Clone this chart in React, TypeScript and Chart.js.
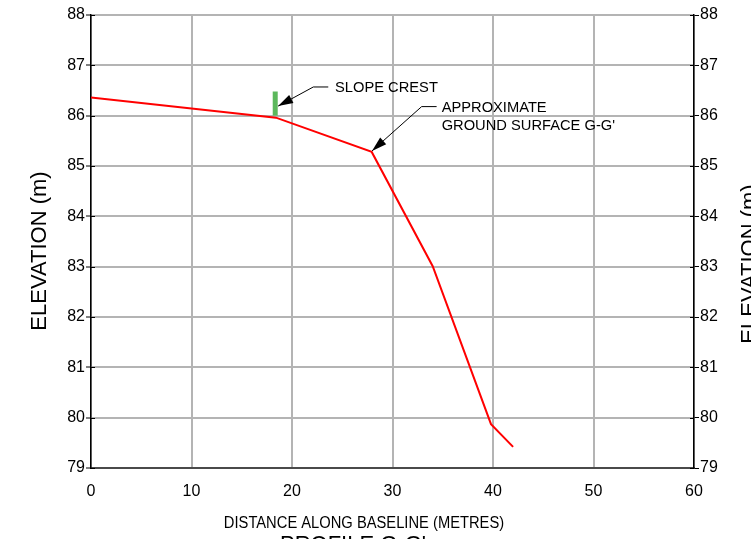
import React, { useEffect, useRef } from 'react';
import { Chart, registerables } from 'chart.js';

Chart.register(...registerables);

// ---- data ----
const distance = [0, 18.4, 27.93, 34.0, 39.8, 42.0];
const elevation = [86.36, 85.96, 85.28, 83.01, 79.87, 79.42];
const crestDistance = [18.33, 18.33];
const crestElevation = [86.0, 86.48];
const xTicks = [0, 10, 20, 30, 40, 50, 60];
const yTicks = [79, 80, 81, 82, 83, 84, 85, 86, 87, 88];

const xTitle = 'DISTANCE ALONG BASELINE (METRES)';
const yTitle = 'ELEVATION (m)';
const chartTitle = "PROFILE G-G'";
const crestLabel = ['SLOPE CREST'];
const groundLabel = ['APPROXIMATE', "GROUND SURFACE G-G'"];

// callout anchors in data units
const crestCallout = { tip: [18.62, 86.19], elbow: [22.12, 86.57], shelf: 23.61, textX: 24.28 };
const groundCallout = { tip: [27.96, 85.3], elbow: [32.9, 86.18], shelf: 34.39, textX: 34.89 };

const FAMILY = '"Liberation Sans", Arial, sans-serif';

function drawCallout(ctx: any, xs: any, ys: any, c: any, lines: string[]) {
  const tx = xs.getPixelForValue(c.tip[0]);
  const ty = ys.getPixelForValue(c.tip[1]);
  const ex = xs.getPixelForValue(c.elbow[0]);
  const ey = ys.getPixelForValue(c.elbow[1]);
  const sx = xs.getPixelForValue(c.shelf);
  ctx.strokeStyle = '#000';
  ctx.fillStyle = '#000';
  ctx.lineWidth = 1;
  ctx.beginPath();
  ctx.moveTo(sx, ey);
  ctx.lineTo(ex, ey);
  ctx.lineTo(tx, ty);
  ctx.stroke();
  const ang = Math.atan2(ty - ey, tx - ex);
  const L = 15, W = 4.5;
  const cos = Math.cos(ang), sin = Math.sin(ang);
  ctx.beginPath();
  ctx.moveTo(tx, ty);
  ctx.lineTo(tx - L * cos + W * sin, ty - L * sin - W * cos);
  ctx.lineTo(tx - L * cos - W * sin, ty - L * sin + W * cos);
  ctx.closePath();
  ctx.fill();
  ctx.font = `14.7px ${FAMILY}`;
  ctx.textAlign = 'left';
  ctx.textBaseline = 'middle';
  const px = xs.getPixelForValue(c.textX);
  lines.forEach((t, i) => ctx.fillText(t, px, ey + 1 + i * 18));
}

const overlay = {
  id: 'overlay',
  afterDraw(chart: any) {
    const { ctx, chartArea } = chart;
    const xs = chart.scales.x;
    const ys = chart.scales.y;
    ctx.save();
    // inner tick stubs
    ctx.strokeStyle = '#000';
    ctx.lineWidth = 1;
    yTicks.forEach((v) => {
      const py = Math.round(ys.getPixelForValue(v)) + 0.5;
      ctx.beginPath();
      ctx.moveTo(chartArea.left, py);
      ctx.lineTo(chartArea.left + 4, py);
      ctx.moveTo(chartArea.right - 4, py);
      ctx.lineTo(chartArea.right, py);
      ctx.stroke();
    });
    drawCallout(ctx, xs, ys, crestCallout, crestLabel);
    drawCallout(ctx, xs, ys, groundCallout, groundLabel);

    ctx.fillStyle = '#000';
    ctx.font = `22px ${FAMILY}`;
    ctx.textAlign = 'center';
    ctx.textBaseline = 'alphabetic';
    // left title
    ctx.save();
    ctx.translate(46, 251);
    ctx.rotate(-Math.PI / 2);
    ctx.fillText(yTitle, 0, 0);
    ctx.restore();
    // right title
    ctx.save();
    ctx.translate(756, 264);
    ctx.rotate(-Math.PI / 2);
    ctx.fillText(yTitle, 0, 0);
    ctx.restore();
    // bottom main title (cut off)
    ctx.fillText(chartTitle, 353, 551);
    // x title
    ctx.save();
    ctx.translate(364, 528);
    ctx.scale(0.92, 1);
    ctx.font = `16px ${FAMILY}`;
    ctx.fillText(xTitle, 0, 0);
    ctx.restore();
    ctx.restore();
  },
};

export default function App() {
  const ref = useRef<HTMLCanvasElement | null>(null);
  useEffect(() => {
    if (!ref.current) return;
    const tickFont = { family: FAMILY, size: 16 };
    const chart = new Chart(ref.current, {
      type: 'line',
      data: {
        datasets: [
          {
            data: distance.map((d, i) => ({ x: d, y: elevation[i] })),
            borderColor: '#ff0000',
            borderWidth: 2,
            pointRadius: 0,
            tension: 0,
            xAxisID: 'x',
            yAxisID: 'y',
          },
          {
            data: crestDistance.map((d, i) => ({ x: d, y: crestElevation[i] })),
            borderColor: '#5cb85c',
            borderWidth: 5,
            borderCapStyle: 'butt',
            pointRadius: 0,
            xAxisID: 'x',
            yAxisID: 'y',
          },
        ],
      },
      options: {
        responsive: false,
        animation: false,
        devicePixelRatio: 1,
        layout: { padding: { top: 15, left: 0, right: 0, bottom: 0 } },
        plugins: { legend: { display: false }, tooltip: { enabled: false } },
        scales: {
          x: {
            type: 'linear',
            position: 'bottom',
            min: 0,
            max: 60,
            afterBuildTicks: (s: any) => {
              s.ticks = xTicks.map((v) => ({ value: v }));
            },
            afterFit: (s: any) => {
              s.height = 71;
            },
            grid: { color: '#b4b4b4', lineWidth: 2, drawTicks: false },
            border: { color: '#4a4a4a', width: 2 },
            ticks: { padding: 14, font: tickFont, color: '#000', maxRotation: 0 },
          },
          y: {
            type: 'linear',
            position: 'left',
            min: 79,
            max: 88,
            afterBuildTicks: (s: any) => {
              s.ticks = yTicks.map((v) => ({ value: v }));
            },
            afterFit: (s: any) => {
              s.width = 91;
            },
            grid: { color: '#b4b4b4', lineWidth: 2, tickColor: '#000', tickLength: 5, tickWidth: 1 },
            border: { color: '#000', width: 1.5 },
            ticks: { padding: 1, font: tickFont, color: '#000' },
          },
          y2: {
            type: 'linear',
            position: 'right',
            min: 79,
            max: 88,
            afterBuildTicks: (s: any) => {
              s.ticks = yTicks.map((v) => ({ value: v }));
            },
            afterFit: (s: any) => {
              s.width = 57;
            },
            grid: { drawOnChartArea: false, tickColor: '#000', tickLength: 5, tickWidth: 1 },
            border: { color: '#000', width: 1.5 },
            ticks: { padding: 1, font: tickFont, color: '#000' },
          },
        },
      },
      plugins: [overlay],
    } as any);
    return () => chart.destroy();
  }, []);
  return (
    <div style={{ position: 'fixed', left: 0, top: 0, width: 751, height: 539, background: '#fff' }}>
      <canvas ref={ref} width={751} height={539} style={{ display: 'block', width: 751, height: 539 }} />
    </div>
  );
}
